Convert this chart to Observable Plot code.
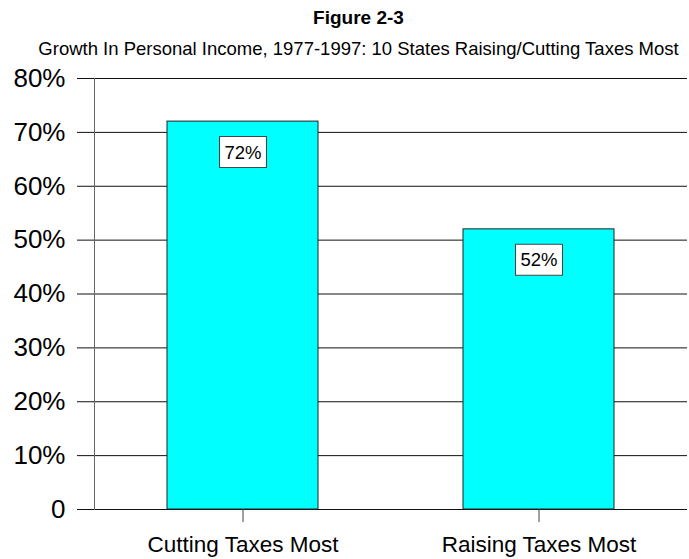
<!DOCTYPE html>
<html>
<head>
<meta charset="utf-8">
<script src="https://cdn.jsdelivr.net/npm/d3@7"></script>
<script src="https://cdn.jsdelivr.net/npm/@observablehq/plot@0.6"></script>
<style>
  body { margin: 0; background: #fff; }
  #chart { width: 689px; height: 559px; }
  svg { font-family: "Liberation Sans", Arial, sans-serif; }
</style>
</head>
<body>
<div id="chart"></div>
<script>
const title = "Figure 2-3";
const subtitle = "Growth In Personal Income, 1977-1997: 10 States Raising/Cutting Taxes Most";
const categories = ["Cutting Taxes Most", "Raising Taxes Most"];
const values = [72, 52];
const yTicks = [0, 10, 20, 30, 40, 50, 60, 70, 80];
const yTickLabels = ["0", "10%", "20%", "30%", "40%", "50%", "60%", "70%", "80%"];

const data = categories.map((c, i) => ({cat: c, val: values[i], label: values[i] + "%"}));

const plot = Plot.plot({
  width: 689,
  height: 559,
  marginLeft: 94,
  marginRight: 2,
  marginTop: 78,
  marginBottom: 50,
  style: {fontFamily: '"Liberation Sans", Arial, sans-serif', background: "#fff", color: "#000"},
  x: {domain: categories, paddingInner: 0.49, paddingOuter: 0.245, label: null},
  y: {domain: [0, 80], label: null},
  marks: [
    Plot.gridY(yTicks, {stroke: "#111", strokeOpacity: 1, strokeWidth: 1}),
    Plot.axisY(yTicks, {
      tickSize: 17, tickPadding: 12, fontSize: 26, stroke: "#111",
      tickFormat: (d) => yTickLabels[yTicks.indexOf(d)], label: null
    }),
    Plot.frame({anchor: "left", stroke: "#666"}),
    Plot.barY(data, {x: "cat", y: "val", fill: "#00ffff", stroke: "#222", strokeWidth: 1}),
    Plot.axisX({tickSize: 13, tickPadding: 14, fontSize: 22.5, stroke: "#444", label: null}),
    Plot.text(data, {x: "cat", y: "val", text: "label", dy: 31, fontSize: 18.5, fill: "#000"}),
    Plot.text([title], {frameAnchor: "top-left", dx: 264, dy: -55, lineAnchor: "bottom", textAnchor: "middle", fontSize: 19, fontWeight: "bold", fill: "#000"}),
    Plot.text([subtitle], {frameAnchor: "top-left", dx: 264, dy: -24, lineAnchor: "bottom", textAnchor: "middle", fontSize: 18.5, fill: "#000"})
  ]
});
document.getElementById("chart").appendChild(plot);

// draw white boxes behind the value labels
const labelTexts = new Set(data.map((d) => d.label));
plot.querySelectorAll("text").forEach((t) => {
  if (!labelTexts.has(t.textContent)) return;
  const b = t.getBBox();
  const r = document.createElementNS("http://www.w3.org/2000/svg", "rect");
  const padX = 5, padY = 5;
  r.setAttribute("x", b.x - padX);
  r.setAttribute("y", b.y - padY);
  r.setAttribute("width", b.width + 2 * padX);
  r.setAttribute("height", b.height + 2 * padY);
  r.setAttribute("fill", "#fff");
  r.setAttribute("stroke", "#444");
  r.setAttribute("stroke-width", 1);
  const tr = t.getAttribute("transform");
  if (tr) r.setAttribute("transform", tr);
  t.parentNode.insertBefore(r, t);
});
</script>
</body>
</html>
